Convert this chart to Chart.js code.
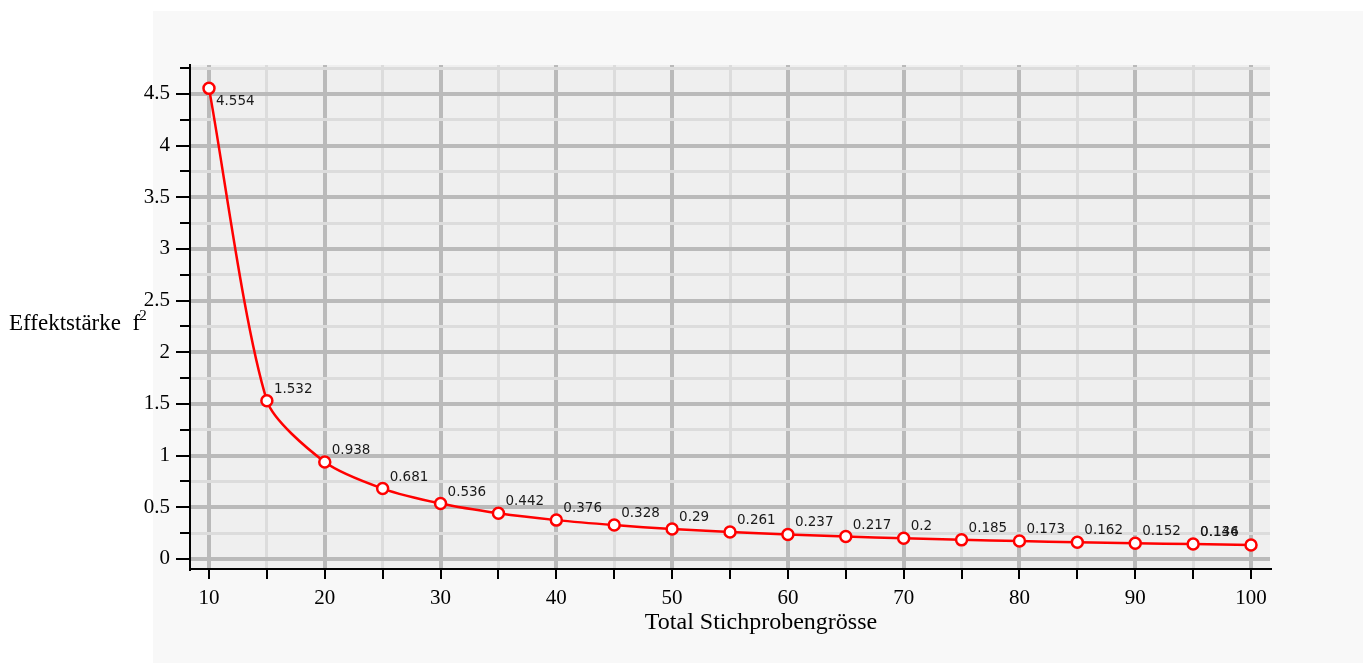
<!DOCTYPE html>
<html>
<head>
<meta charset="utf-8">
<script src="https://cdn.jsdelivr.net/npm/chart.js@4"></script>
<style>
  html, body { margin: 0; padding: 0; background: #ffffff; }
  #wrap { width: 1367px; height: 663px; position: relative; }
</style>
</head>
<body>
<div id="wrap"><canvas id="mainChart" width="1367" height="663"></canvas></div>
<script>
// Total Stichprobengrösse vs. Effektstärke f²
const sampleSizes = [10, 15, 20, 25, 30, 35, 40, 45, 50, 55, 60, 65, 70, 75, 80, 85, 90, 95, 100];
const effectSizes = [4.554, 1.532, 0.938, 0.681, 0.536, 0.442, 0.376, 0.328, 0.29, 0.261,
                     0.237, 0.217, 0.2, 0.185, 0.173, 0.162, 0.152, 0.144, 0.136];
const xTickValues = [10, 15, 20, 25, 30, 35, 40, 45, 50, 55, 60, 65, 70, 75, 80, 85, 90, 95, 100];
const yTickValues = [0, 0.25, 0.5, 0.75, 1, 1.25, 1.5, 1.75, 2, 2.25, 2.5, 2.75, 3, 3.25, 3.5, 3.75, 4, 4.25, 4.5, 4.75];
const xTitle = 'Total Stichprobengrösse';
const yTitle = 'Effektstärke  f';

const isMajorY = v => Math.abs(v * 2 - Math.round(v * 2)) < 1e-6;
const isMajorX = v => v % 10 === 0;

const bgPlugin = {
    id: 'bg',
    beforeDraw(chart) {
        const { ctx, chartArea: a } = chart;
        ctx.save();
        ctx.fillStyle = '#f8f8f8';
        ctx.fillRect(153, 11, 1210, 652);
        ctx.fillStyle = '#efefef';
        ctx.fillRect(a.left, a.top, a.right - a.left, a.bottom - a.top);
        ctx.restore();
    }
};

const decoPlugin = {
    id: 'deco',
    afterDraw(chart) {
        const { ctx, chartArea: a } = chart;
        const xs = chart.scales.x, ys = chart.scales.y;
        ctx.save();
        // tick marks
        ctx.strokeStyle = '#000';
        ctx.lineWidth = 2;
        ctx.beginPath();
        yTickValues.forEach(v => {
            const py = Math.round(ys.getPixelForValue(v));
            const len = isMajorY(v) ? 14 : 10;
            ctx.moveTo(a.left - len, py);
            ctx.lineTo(a.left, py);
        });
        xTickValues.forEach(v => {
            const px = Math.round(xs.getPixelForValue(v));
            ctx.moveTo(px, a.bottom);
            ctx.lineTo(px, a.bottom + 10);
        });
        ctx.stroke();

        // point labels
        const meta = chart.getDatasetMeta(0);
        ctx.font = '13.5px "DejaVu Sans"';
        ctx.fillStyle = '#1a1a1a';
        ctx.textAlign = 'left';
        ctx.textBaseline = 'alphabetic';
        meta.data.forEach((pt, i) => {
            const txt = String(effectSizes[i]);
            let lx = pt.x + 7;
            let ly = pt.y - 8;
            if (ly - 25 < a.top) ly = pt.y + 17;
            if (lx + ctx.measureText(txt).width > a.right && i > 0) {
                lx = meta.data[i - 1].x + 7;
                ly = meta.data[i - 1].y - 8;
            }
            ctx.fillText(txt, lx, ly);
        });

        // axis titles
        ctx.fillStyle = '#000';
        ctx.font = '24px "Liberation Serif"';
        ctx.textAlign = 'center';
        ctx.fillText(xTitle, 761, 629);
        ctx.textAlign = 'left';
        ctx.font = '23px "Liberation Serif"';
        ctx.fillText(yTitle, 9, 330);
        const w = ctx.measureText(yTitle).width;
        ctx.font = '15px "Liberation Serif"';
        ctx.fillText('2', 9 + w - 1, 320);
        ctx.restore();
    }
};

const ctx = document.getElementById('mainChart').getContext('2d');
new Chart(ctx, {
    type: 'line',
    data: {
        datasets: [{
            data: sampleSizes.map((x, i) => ({ x: x, y: effectSizes[i] })),
            borderColor: '#ff0000',
            borderWidth: 2.5,
            pointRadius: 5.5,
            pointBorderWidth: 2.5,
            pointBackgroundColor: '#ffffff',
            pointBorderColor: '#ff0000',
            tension: 0.25,
            fill: false
        }]
    },
    options: {
        responsive: false,
        animation: false,
        layout: { padding: { left: 130, right: 97, top: 65, bottom: 24 } },
        plugins: {
            legend: { display: false },
            tooltip: { enabled: false }
        },
        scales: {
            x: {
                type: 'linear',
                min: 8.36,
                max: 101.64,
                afterBuildTicks: s => { s.ticks = xTickValues.map(v => ({ value: v })); },
                afterFit: s => { s.height = 70; },
                grid: {
                    drawTicks: false,
                    color: c => isMajorX(c.tick.value) ? '#bababa' : '#dcdcdc',
                    lineWidth: c => isMajorX(c.tick.value) ? 4 : 3
                },
                border: { display: true, color: '#000', width: 2 },
                ticks: {
                    padding: 17,
                    maxRotation: 0,
                    autoSkip: false,
                    color: '#000',
                    font: { family: '"Liberation Serif"', size: 21 },
                    callback: v => isMajorX(v) ? String(v) : ''
                }
            },
            y: {
                type: 'linear',
                min: -0.097,
                max: 4.78,
                afterBuildTicks: s => { s.ticks = yTickValues.map(v => ({ value: v })); },
                afterFit: s => { s.width = 60; },
                grid: {
                    drawTicks: false,
                    color: c => isMajorY(c.tick.value) ? '#bababa' : '#dcdcdc',
                    lineWidth: c => isMajorY(c.tick.value) ? 4 : 3
                },
                border: { display: true, color: '#000', width: 2 },
                ticks: {
                    padding: 20,
                    autoSkip: false,
                    color: '#000',
                    font: { family: '"Liberation Serif"', size: 21 },
                    callback: v => isMajorY(v) ? String(v) : ''
                }
            }
        }
    },
    plugins: [bgPlugin, decoPlugin]
});
</script>
</body>
</html>
